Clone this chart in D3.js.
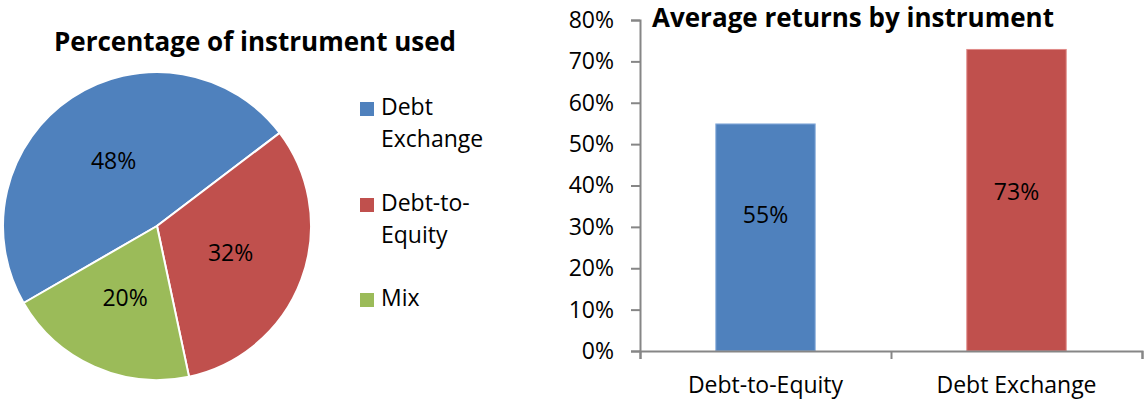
<!DOCTYPE html>
<html>
<head>
<meta charset="utf-8">
<script src="https://cdn.jsdelivr.net/npm/d3@7"></script>
<style>
  body { margin: 0; background: #fff; }
  svg { display: block; font-family: "Open Sans", sans-serif; }
</style>
</head>
<body>
<div id="chart"></div>
<script>
// Data
const PIE_LABELS = ["Debt Exchange", "Debt-to-Equity", "Mix"];
const PIE_VALUES = [48, 32, 20];
const PIE_COLORS = ["#4F81BD", "#C0504D", "#9BBB59"];
const LEGEND_LINES = [["Debt", "Exchange"], ["Debt-to-", "Equity"], ["Mix"]];

const BAR_CATEGORIES = ["Debt-to-Equity", "Debt Exchange"];
const BAR_VALUES = [55, 73];
const BAR_COLORS = ["#4F81BD", "#C0504D"];
const BAR_EDGES = ["#8BAEDC", "#E08A88"];
const Y_TICKS = [0, 10, 20, 30, 40, 50, 60, 70, 80];

const WIDTH = 1145;
const HEIGHT = 401;
const FONT_SIZE = "23px";
const TITLE_SIZE = "26px";

const svg = d3.select("#chart")
              .append("svg")
                .attr("width", WIDTH)
                .attr("height", HEIGHT);

// Pie chart
const PIE_CX = 157, PIE_CY = 226, PIE_R = 154;

svg.append("text")
    .attr("x", 255)
    .attr("y", 51)
    .attr("text-anchor", "middle")
    .attr("font-weight", "bold")
    .attr("font-size", TITLE_SIZE)
    .text("Percentage of instrument used");

const pie = d3.pie()
              .sort(null)
              .startAngle(240 * Math.PI / 180)
              .endAngle(600 * Math.PI / 180);

const arcs = pie(PIE_VALUES);
const arc = d3.arc().innerRadius(0).outerRadius(PIE_R);

const pieG = svg.append("g")
                .attr("transform", "translate(" + PIE_CX + "," + PIE_CY + ")");

pieG.selectAll(".slice")
    .data(arcs)
    .enter()
    .append("path")
      .attr("class", "slice")
      .attr("d", arc)
      .attr("fill", (d, i) => PIE_COLORS[i])
      .attr("stroke", "#fff")
      .attr("stroke-width", 2);

const labelArc = d3.arc().innerRadius(PIE_R * 0.51).outerRadius(PIE_R * 0.51);
pieG.selectAll(".pie-label")
    .data(arcs)
    .enter()
    .append("text")
      .attr("class", "pie-label")
      .attr("transform", d => "translate(" + labelArc.centroid(d) + ")")
      .attr("text-anchor", "middle")
      .attr("dy", "0.35em")
      .attr("font-size", FONT_SIZE)
      .attr("fill", "#000")
      .text(d => d.data + "%");

// Legend
const LEGEND_Y = [107, 203, 298];
const legend = svg.append("g");
LEGEND_LINES.forEach((lines, i) => {
  legend.append("rect")
      .attr("x", 360)
      .attr("y", LEGEND_Y[i] - 5)
      .attr("width", 14)
      .attr("height", 14)
      .attr("fill", PIE_COLORS[i]);
  lines.forEach((ln, j) => {
    legend.append("text")
        .attr("x", 381)
        .attr("y", LEGEND_Y[i] + 8 + j * 32)
        .attr("font-size", FONT_SIZE)
        .text(ln);
  });
});

// Bar chart
const BAR_LEFT = 640, BAR_RIGHT = 1142, BAR_TOP = 20, BAR_BOTTOM = 351;

const X_SCALE = d3.scaleBand()
                  .domain(BAR_CATEGORIES)
                  .range([BAR_LEFT, BAR_RIGHT])
                  .paddingInner(0.6)
                  .paddingOuter(0.3);

const Y_SCALE = d3.scaleLinear()
                  .domain([0, 80])
                  .range([BAR_BOTTOM, BAR_TOP]);

svg.selectAll(".bar")
    .data(BAR_VALUES)
    .enter()
    .append("rect")
      .attr("class", "bar")
      .attr("x", (d, i) => X_SCALE(BAR_CATEGORIES[i]) + 0.5)
      .attr("width", X_SCALE.bandwidth() - 1)
      .attr("y", d => Y_SCALE(d) + 0.5)
      .attr("height", d => BAR_BOTTOM - Y_SCALE(d) - 0.5)
      .attr("fill", (d, i) => BAR_COLORS[i])
      .attr("stroke", (d, i) => BAR_EDGES[i])
      .attr("stroke-width", 1);

// value labels sit a little under mid-bar, as in the original
svg.selectAll(".bar-label")
    .data(BAR_VALUES)
    .enter()
    .append("text")
      .attr("class", "bar-label")
      .attr("x", (d, i) => X_SCALE(BAR_CATEGORIES[i]) + X_SCALE.bandwidth() / 2)
      .attr("y", d => Y_SCALE(0.3 * d + 16.5))
      .attr("dy", "0.35em")
      .attr("text-anchor", "middle")
      .attr("font-size", FONT_SIZE)
      .text(d => d + "%");

// Y axis
const yAxis = svg.append("g")
    .attr("transform", "translate(" + BAR_LEFT + ",0)")
    .call(d3.axisLeft(Y_SCALE).tickValues(Y_TICKS).tickSize(9).tickPadding(17)
            .tickFormat(d => d + "%"));
yAxis.select(".domain").attr("stroke", "#868686").attr("stroke-width", 2);
yAxis.selectAll(".tick line").attr("stroke", "#868686").attr("stroke-width", 2);
yAxis.selectAll(".tick text").attr("font-size", FONT_SIZE).attr("font-family", "Open Sans").attr("fill", "#000");

// X axis with category boundary ticks
const X_EDGE = d3.scaleLinear().domain([0, BAR_CATEGORIES.length]).range([BAR_LEFT, BAR_RIGHT]);
const xAxis = svg.append("g")
    .attr("transform", "translate(0," + BAR_BOTTOM + ")")
    .call(d3.axisBottom(X_EDGE).tickValues([0, 1, 2]).tickSize(8).tickFormat(""));
xAxis.select(".domain").attr("stroke", "#868686").attr("stroke-width", 2);
xAxis.selectAll(".tick line").attr("stroke", "#868686").attr("stroke-width", 2);

svg.selectAll(".x-label")
    .data(BAR_CATEGORIES)
    .enter()
    .append("text")
      .attr("class", "x-label")
      .attr("x", d => X_SCALE(d) + X_SCALE.bandwidth() / 2)
      .attr("y", 393)
      .attr("text-anchor", "middle")
      .attr("font-size", FONT_SIZE)
      .text(d => d);

svg.append("text")
    .attr("x", 853)
    .attr("y", 27)
    .attr("text-anchor", "middle")
    .attr("font-weight", "bold")
    .attr("font-size", TITLE_SIZE)
    .text("Average returns by instrument");
</script>
</body>
</html>
